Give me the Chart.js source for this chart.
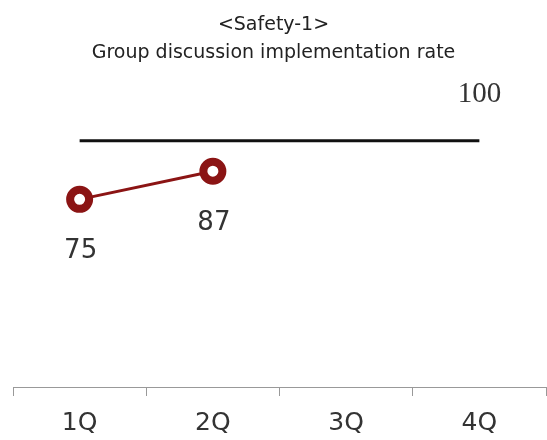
<!DOCTYPE html>
<html>
<head>
<meta charset="utf-8">
<script src="https://cdn.jsdelivr.net/npm/chart.js@4.4.1/dist/chart.umd.min.js"></script>
<style>
  html, body { margin: 0; padding: 0; background: #fff; }
  #wrap { width: 547px; height: 440px; }
</style>
</head>
<body>
<div id="wrap"><canvas id="chartSafety"></canvas></div>
<script>
// Dados do gráfico
const quarters = ['1Q', '2Q', '3Q', '4Q'];
const actualRate = [75, 87, null, null];
const targetRate = [100, 100, 100, 100];
const titleLines = ['<Safety-1>', 'Group discussion implementation rate'];

const corVermelho = '#8b1414';
const fonteSans = '"DejaVu Sans", Verdana, sans-serif';

// Rótulos de valor: abaixo dos pontos reais, "100" acima do fim da meta
const valueLabels = {
    id: 'valueLabels',
    afterDatasetsDraw(chart) {
        const ctx = chart.ctx;
        ctx.save();
        ctx.textAlign = 'center';
        ctx.textBaseline = 'middle';

        const metaActual = chart.getDatasetMeta(0);
        ctx.font = '26px ' + fonteSans;
        ctx.fillStyle = '#333';
        metaActual.data.forEach((pt, i) => {
            const v = actualRate[i];
            if (v === null) return;
            ctx.fillText(String(v), pt.x + 1, pt.y + 52);
        });

        const metaTarget = chart.getDatasetMeta(1);
        const last = metaTarget.data[metaTarget.data.length - 1];
        ctx.font = '29px "Liberation Serif", serif';
        ctx.fillStyle = '#333';
        ctx.fillText(String(targetRate[targetRate.length - 1]), last.x, last.y - 46);
        ctx.restore();
    }
};

new Chart(document.getElementById('chartSafety'), {
    type: 'line',
    data: {
        labels: quarters,
        datasets: [
            {
                label: 'Actual',
                data: actualRate,
                borderColor: corVermelho,
                borderWidth: 3,
                pointRadius: 9.5,
                pointBorderWidth: 8,
                pointBackgroundColor: '#fff',
                pointBorderColor: corVermelho,
                spanGaps: false,
                order: 0
            },
            {
                label: 'Target',
                data: targetRate,
                borderColor: '#111',
                borderWidth: 3,
                pointRadius: 0,
                order: 1
            }
        ]
    },
    options: {
        responsive: true,
        maintainAspectRatio: false,
        animation: false,
        layout: { autoPadding: false, padding: 0 },
        plugins: {
            legend: { display: false },
            tooltip: { enabled: false },
            title: {
                display: true,
                text: titleLines,
                color: '#222',
                font: { family: fonteSans, size: 19, weight: 'normal', lineHeight: 1.47 },
                padding: { top: 11, bottom: 34 }
            }
        },
        scales: {
            x: {
                offset: true,
                grid: {
                    offset: true,
                    drawOnChartArea: false,
                    drawTicks: true,
                    tickLength: 9,
                    color: '#999'
                },
                border: { color: '#999', width: 1 },
                ticks: {
                    color: '#333',
                    maxRotation: 0,
                    font: { family: fonteSans, size: 25 },
                    padding: 12
                },
                // margens fixas do eixo e altura da faixa dos rótulos
                afterFit(scale) {
                    scale.paddingLeft = 13;
                    scale.paddingRight = 1;
                    scale.height = 53;
                }
            },
            y: {
                display: false,
                min: -5,
                max: 117
            }
        }
    },
    plugins: [valueLabels]
});
</script>
</body>
</html>
